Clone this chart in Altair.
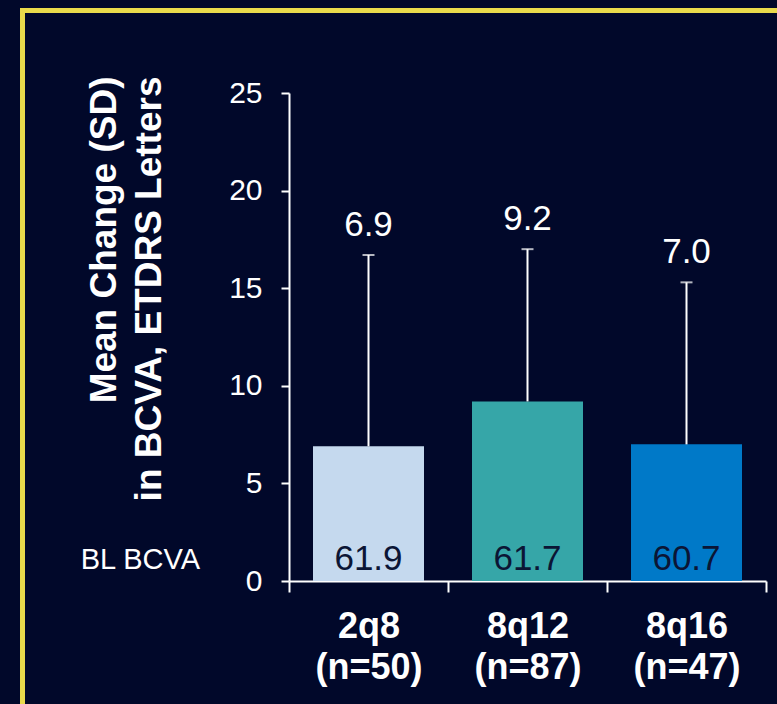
import altair as alt
import pandas as pd

groups = ["2q8", "8q12", "8q16"]
n_counts = [50, 87, 47]
mean_change = [6.9, 9.2, 7.0]
sd_values = [9.8, 7.8, 8.3]
bl_bcva = [61.9, 61.7, 60.7]
bar_colors = ["#C5D9EE", "#36A6A8", "#0079C8"]

y_ticks = [0, 5, 10, 15, 20, 25]

FONT = "Liberation Sans"
BG = "#01082A"
YELLOW = "#E9DA4B"

cats = [f"{g}|(n={n})" for g, n in zip(groups, n_counts)]
df = pd.DataFrame({
    "cat": cats,
    "mean": mean_change,
    "top": [m + s for m, s in zip(mean_change, sd_values)],
    "bl": bl_bcva,
    "mean_lbl": [f"{m:.1f}" for m in mean_change],
    "bl_lbl": [f"{b:.1f}" for b in bl_bcva],
})

x_enc = alt.X(
    "cat:N",
    sort=cats,
    scale=alt.Scale(paddingInner=0, paddingOuter=0),
    axis=alt.Axis(
        title=None,
        labelExpr="split(datum.label, '|')",
        labelFont=FONT,
        labelFontSize=36,
        labelFontWeight="bold",
        labelColor="white",
        labelLineHeight=41,
        labelPadding=17,
        labelAngle=0,
        tickBand="extent",
        tickSize=11,
        tickWidth=2,
        tickColor="white",
        domainColor="white",
        domainWidth=2,
        grid=False,
    ),
)

y_scale = alt.Scale(domain=[0, 25], nice=False, zero=True)

y_axis = alt.Axis(
    values=y_ticks,
    title=["Mean Change  (SD)", "in BCVA,  ETDRS Letters"],
    titleFont=FONT,
    titleFontSize=37,
    titleFontWeight="bold",
    titleColor="white",
    titleAngle=270,
    titleAlign="right",
    titleBaseline="alphabetic",
    titleLineHeight=45,
    titleX=-174,
    titleY=-17,
    labelFont=FONT,
    labelFontSize=30,
    labelColor="white",
    labelPadding=19,
    tickSize=8,
    tickWidth=2,
    tickColor="white",
    domainColor="white",
    domainWidth=2,
    grid=False,
)

base = alt.Chart(df)

bars = base.mark_bar(size=111).encode(
    x=x_enc,
    y=alt.Y("mean:Q", scale=y_scale, axis=y_axis),
    color=alt.Color("cat:N", scale=alt.Scale(domain=cats, range=bar_colors), legend=None),
)

whisker = base.mark_rule(color="white", strokeWidth=2).encode(
    x=alt.X("cat:N", sort=cats),
    y="mean:Q",
    y2="top:Q",
)

caps = base.mark_tick(color="white", size=12, thickness=2).encode(
    x=alt.X("cat:N", sort=cats),
    y="top:Q",
)

top_labels = base.mark_text(
    font=FONT, fontSize=35, color="white", baseline="alphabetic", dy=-19
).encode(
    x=alt.X("cat:N", sort=cats),
    y="top:Q",
    text="mean_lbl:N",
)

bl_labels = base.mark_text(
    font=FONT, fontSize=35, color="#0B1535", baseline="alphabetic", dy=-11
).encode(
    x=alt.X("cat:N", sort=cats),
    y=alt.datum(0),
    text="bl_lbl:N",
)

one = alt.Chart(pd.DataFrame({"t": ["BL BCVA"]}))
bl_title = one.mark_text(
    font=FONT, fontSize=29, color="white", align="right", baseline="alphabetic", dy=-12
).encode(
    x=alt.value(-89),
    y=alt.datum(0),
    text="t:N",
)

frame_v = one.mark_rule(color=YELLOW, strokeWidth=5).encode(
    x=alt.value(-266.5), y=alt.value(-85), y2=alt.value(620)
)
frame_h = one.mark_rule(color=YELLOW, strokeWidth=5).encode(
    x=alt.value(-269), x2=alt.value(500), y=alt.value(-82.5)
)

chart = alt.layer(
    frame_v, frame_h, bars, whisker, caps, top_labels, bl_labels, bl_title
).properties(
    width=477,
    height=488,
    autosize="none",
    padding={"left": 289, "top": 93, "right": 11, "bottom": 123},
    background=BG,
).configure_view(stroke=None)

chart.save("out.html", embed_options={"renderer": "svg", "actions": False})
